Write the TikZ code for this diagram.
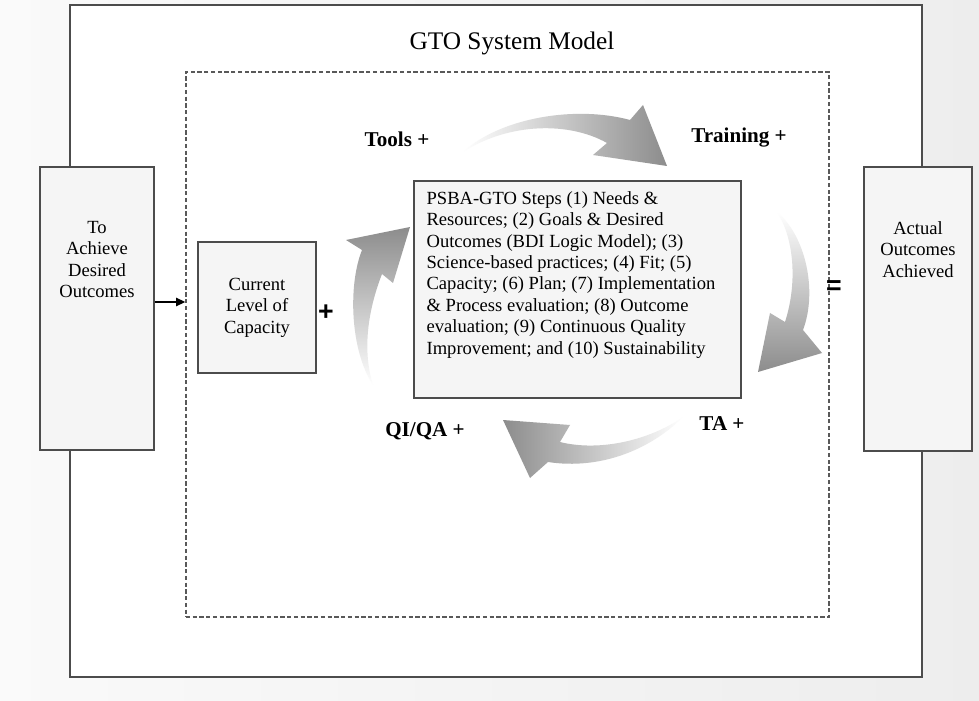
\documentclass[tikz,border=0pt]{standalone}
\usepackage{fontspec}
\setmainfont{Liberation Serif}
\newfontfamily\signfont{Liberation Sans}
\usepackage{xcolor}
\usepackage{tikz}
\usetikzlibrary{positioning, arrows.meta}

\begin{document}
\begin{tikzpicture}[x=0.025cm, y=-0.025cm,
  panel/.style={rectangle, draw=black!70, fill=gray!8, line width=0.9pt, inner sep=0pt},
  body/.style={font=\fontsize{13.2}{15.2}\selectfont, align=center, inner sep=0pt},
  bigplus/.style={font=\fontsize{15}{18}\selectfont\bfseries, inner sep=0pt},
  sign/.style={font=\fontsize{19}{22}\selectfont\signfont\bfseries, inner sep=0pt}]

\shade[left color=gray!4, right color=gray!14] (0,0) rectangle (979,701);
\useasboundingbox (0,0) rectangle (979,701);

\node[rectangle, draw=black!70, fill=white, line width=0.9pt, minimum width=21.3cm, minimum height=16.8cm] (frame) at (496,341) {};
\node[font=\fontsize{18}{21}\selectfont] (title) at (512,43) {GTO System Model};
\node[rectangle, draw=black!65, dash pattern=on 3pt off 1.8pt, line width=1pt, minimum width=16.075cm, minimum height=13.625cm] (gto) at (507.5,344.5) {};

\node[panel, minimum width=2.85cm, minimum height=7.075cm] (goal) at (97,308.5) {};
\node[body, below=1.37cm of goal.north] (goaltext) {To\\Achieve\\Desired\\Outcomes};
\node[panel, minimum width=2.7cm, minimum height=7.1cm] (real) at (918,309) {};
\node[body, below=1.37cm of real.north] (realtext) {Actual\\Outcomes\\Achieved};

\node[panel, body, minimum width=2.95cm, minimum height=3.275cm] (cap) at (257,307.5) {Current\\Level of\\Capacity};
\node[panel, minimum width=8.175cm, minimum height=5.425cm] (steps) at (577.5,289.5) {};
\node[body, align=left, below right=0.275cm and 0.325cm of steps.north west] (stepstext) {PSBA-GTO Steps (1) Needs \&\\Resources; (2) Goals \& Desired\\Outcomes (BDI Logic Model); (3)\\Science-based practices; (4) Fit; (5)\\Capacity; (6) Plan; (7) Implementation\\\& Process evaluation; (8) Outcome\\evaluation; (9) Continuous Quality\\Improvement; and (10) Sustainability};

\coordinate (link) at (154,302);
\draw[-{Triangle[length=6.5pt, width=6pt]}, line width=0.9pt] (goal.east |- link) -- (link -| gto.west);

\shade[left color=white, middle color=gray!55, right color=gray!90] (463,152) .. controls (500,118) and (575,105) .. (630,120) -- (643,105) -- (667,166) -- (593,155) -- (607,143) .. controls (570,122) and (510,122) .. cycle;
\shade[top color=white, middle color=gray!55, bottom color=gray!90] (777,212) .. controls (805,235) and (818,290) .. (803,330) -- (822,353) -- (758,372) -- (770,313) -- (785,322) .. controls (797,285) and (795,240) .. cycle;
\shade[left color=gray!90, middle color=gray!55, right color=white] (683,417) .. controls (650,450) and (600,470) .. (548,462) -- (530,478) -- (503,420) -- (570,425) -- (560,442) .. controls (600,452) and (650,440) .. cycle;
\shade[top color=gray!90, middle color=gray!55, bottom color=white] (373,385) .. controls (350,350) and (348,285) .. (362,250) -- (346,240) -- (410,227) -- (393,283) -- (382,274) .. controls (368,310) and (362,350) .. cycle;

\node[bigplus] (tools) at (397,139) {Tools +};
\node[bigplus] (training) at (739,138) {Training +};
\node[bigplus] (ta) at (722,424) {TA +};
\node[bigplus] (qiqa) at (425,431) {QI/QA +};
\node[sign] (plus) at (326,313) {+};
\node[sign] (equals) at (834,288) {=};

\end{tikzpicture}
\end{document}
